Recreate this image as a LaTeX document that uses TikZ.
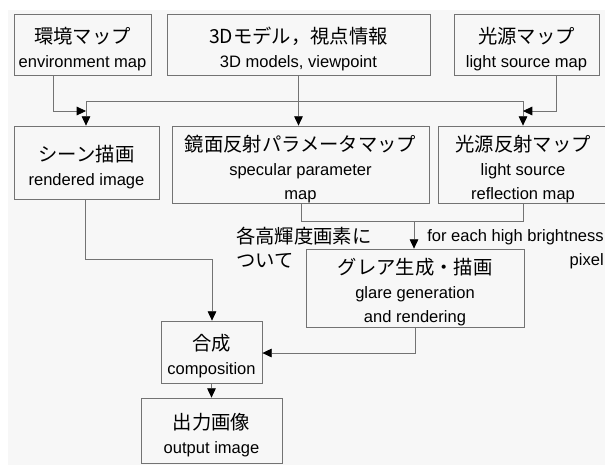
\documentclass[tikz,border=0pt]{standalone}
\usepackage{fontspec}
\setmainfont{Liberation Sans}
\newfontfamily\jpfont{Noto Sans CJK JP}
\usetikzlibrary{arrows.meta}
\newcommand{\jp}[1]{{\jpfont\fontsize{14.5pt}{18pt}\selectfont\smash{#1}\rule{0pt}{19pt}}}

\begin{document}
\setlength{\lineskiplimit}{-20pt}
\begin{tikzpicture}[x=0.75pt,y=-0.75pt,
  box/.style={draw=black!55, line width=0.6pt, inner sep=0pt, align=center,
    font=\fontsize{12.4pt}{18pt}\selectfont},
  size/.style 2 args={minimum width=#1*0.75pt, minimum height=#2*0.75pt},
  wire/.style={draw=black!55, line width=0.6pt},
  note/.style={inner sep=0pt, font=\fontsize{12.4pt}{18pt}\selectfont},
  >={Triangle[length=7pt,width=6.5pt,color=black]}]

% background
\fill[black!3] (8,10) rectangle (605,465);
\useasboundingbox (0,0) rectangle (605,465);

% inputs
\node[box, size={137}{61}] (env) at (82.5,44.5) {\jp{環境マップ}\\environment map};
\node[box, size={263}{61}] (model) at (298.5,44.5) {\jp{3Dモデル，視点情報}\\3D models, viewpoint};
\node[box, size={145}{61}] (lsrc) at (526.5,44.5) {\jp{光源マップ}\\light source map};

% maps
\node[box, size={145}{73}] (scene) at (86.5,162.5) {\jp{シーン描画}\\rendered image};
\node[box, size={257}{77}] (spec) at (300.5,164.5) {\jp{鏡面反射パラメータマップ}\\specular parameter\\map};
\node[box, size={170}{77}] (lrefl) at (523,164.5) {\jp{光源反射マップ}\\light source\\reflection map};

% glare, composition, output
\node[box, size={218}{78}] (glare) at (415,288) {\jp{グレア生成・描画}\\glare generation\\and rendering};
\node[box, size={101}{62}] (comp) at (211.5,352) {\jp{合成}\\composition};
\node[box, size={141}{65}] (out) at (211.5,430.5) {\jp{出力画像}\\output image};

% notes
\node[note, anchor=west, align=left] (each) at (236,243) {\jp{各高輝度画素に}\\\jp{ついて}};
\node[note, anchor=east, align=right] (pix) at (604,249) {for each high brightness\\pixel};

% bus from the models
\coordinate (busL) at (86,101);
\coordinate (busR) at (523,101);
\draw[wire] (busL) -- (busR);
\draw[wire,->] (busL) -- (busL |- scene.north);
\draw[wire,->] (busR) -- (busR |- lrefl.north);
\draw[wire,->] (model.south) -- (model.south |- spec.north);

% side inputs
\coordinate (envc) at (53,111);
\draw[wire,->] (env.south -| envc) -- (envc) -- (envc -| busL);
\coordinate (lsc) at (556,111);
\draw[wire,->] (lsrc.south -| lsc) -- (lsc) -- (lsc -| busR);

% maps to glare
\coordinate (sp) at (301,221);
\coordinate (lr) at (523,221);
\draw[wire] (spec.south -| sp) -- (sp) -- (lr) -- (lrefl.south -| lr);
\coordinate (gl) at (414,221);
\draw[wire,->] (gl) -- (gl |- glare.north);

% into composition
\coordinate (sc) at (85,259);
\coordinate (sc2) at (212,259);
\draw[wire,->] (scene.south -| sc) -- (sc) -- (sc2) -- (sc2 |- comp.north);
\coordinate (gb) at (415,353);
\draw[wire,->] (glare.south -| gb) -- (gb) -- (comp.east |- gb);
\draw[wire,->] (comp.south) -- (out.north);

\end{tikzpicture}
\end{document}
